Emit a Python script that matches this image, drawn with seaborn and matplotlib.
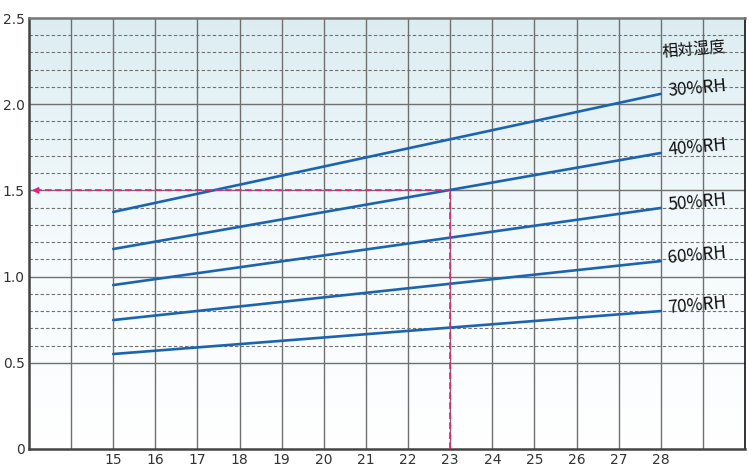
import numpy as np
import pandas as pd
import seaborn as sns
import matplotlib.pyplot as plt
from matplotlib.colors import LinearSegmentedColormap

# data: straight lines from 15 to 28 degC
temps = [15, 28]
rh_labels = ["30%RH", "40%RH", "50%RH", "60%RH", "70%RH"]
rh30 = [1.375, 2.06]
rh40 = [1.16, 1.717]
rh50 = [0.951, 1.398]
rh60 = [0.748, 1.09]
rh70 = [0.551, 0.80]
x_ticks = list(range(15, 29))
y_ticks = [0, 0.5, 1.0, 1.5, 2.0, 2.5]
y_ticklabels = ["0", "0.5", "1.0", "1.5", "2.0", "2.5"]
example_temp = 23
example_value = 1.5

rows = []
for lab, vals in zip(rh_labels, [rh30, rh40, rh50, rh60, rh70]):
    for t, v in zip(temps, vals):
        rows.append({"temp": t, "value": v, "rh": lab})
df = pd.DataFrame(rows)

sns.set_style("white")
plt.rcParams['font.family'] = ['Noto Sans CJK JP', 'DejaVu Sans']

fig = plt.figure(figsize=(7.49, 4.72), dpi=100)
ax = fig.add_axes([29 / 749, 23 / 472, 716 / 749, 431 / 472])
ax.set_xlim(13, 30)
ax.set_ylim(0, 2.5)

# background gradient, light blue on top fading to white
grad = np.linspace(0, 1, 256).reshape(-1, 1)
cmap = LinearSegmentedColormap.from_list("bg", ["#ffffff", "#f4fafc", "#dcedf2"])
ax.imshow(grad, extent=[13, 30, 0, 2.5], origin="lower", aspect="auto",
          cmap=cmap, zorder=0)

# grid
for x in range(14, 30):
    ax.axvline(x, color="#707070", lw=1.0, zorder=1)
for y in np.arange(0.6, 2.45, 0.1):
    if abs(y * 2 - round(y * 2)) > 0.01:
        ax.axhline(y, color="#707070", lw=0.8, ls=(0, (3, 2)), zorder=1)
for y in [0.5, 1.0, 1.5, 2.0]:
    ax.axhline(y, color="#707070", lw=1.0, zorder=1)

sns.lineplot(data=df, x="temp", y="value", units="rh", estimator=None,
             color="#1c64b0", lw=1.9, ax=ax, zorder=3)

# example reading
ax.plot([example_temp, example_temp], [0, example_value], color="#e6207e",
        lw=1.2, ls=(0, (4, 2)), zorder=4)
ax.plot([13.15, example_temp], [example_value, example_value], color="#e6207e",
        lw=1.2, ls=(0, (4, 2)), zorder=4)
ax.annotate("", xy=(13.0, example_value), xytext=(13.3, example_value),
            arrowprops=dict(arrowstyle="-|>", color="#e6207e", lw=1.2,
                            mutation_scale=9), zorder=5)

# labels at line ends
ax.text(28.0, 2.315, "相対湿度", fontsize=11.5, rotation=5, va="center",
        ha="left", color="#111111", zorder=6)
for lab, vals in zip(rh_labels, [rh30, rh40, rh50, rh60, rh70]):
    ax.text(28.15, vals[-1] + 0.03, lab, fontsize=12.5, rotation=5,
            va="center", ha="left", color="#111111", zorder=6)

ax.set_xticks(x_ticks)
ax.set_xticklabels([str(t) for t in x_ticks], fontsize=10, color="#333333",
                   family="DejaVu Sans")
ax.set_yticks(y_ticks)
ax.set_yticklabels(y_ticklabels, fontsize=10, color="#333333",
                   family="DejaVu Sans")
ax.tick_params(length=0, pad=3)
ax.set_xlabel("")
ax.set_ylabel("")
for side in ["left", "bottom"]:
    ax.spines[side].set_color("#444444")
    ax.spines[side].set_linewidth(1.8)
ax.spines["top"].set_color("#777777")
ax.spines["top"].set_linewidth(1.8)
ax.spines["right"].set_color("#111111")
ax.spines["right"].set_linewidth(1.2)

fig.savefig("out.png", dpi=100)
